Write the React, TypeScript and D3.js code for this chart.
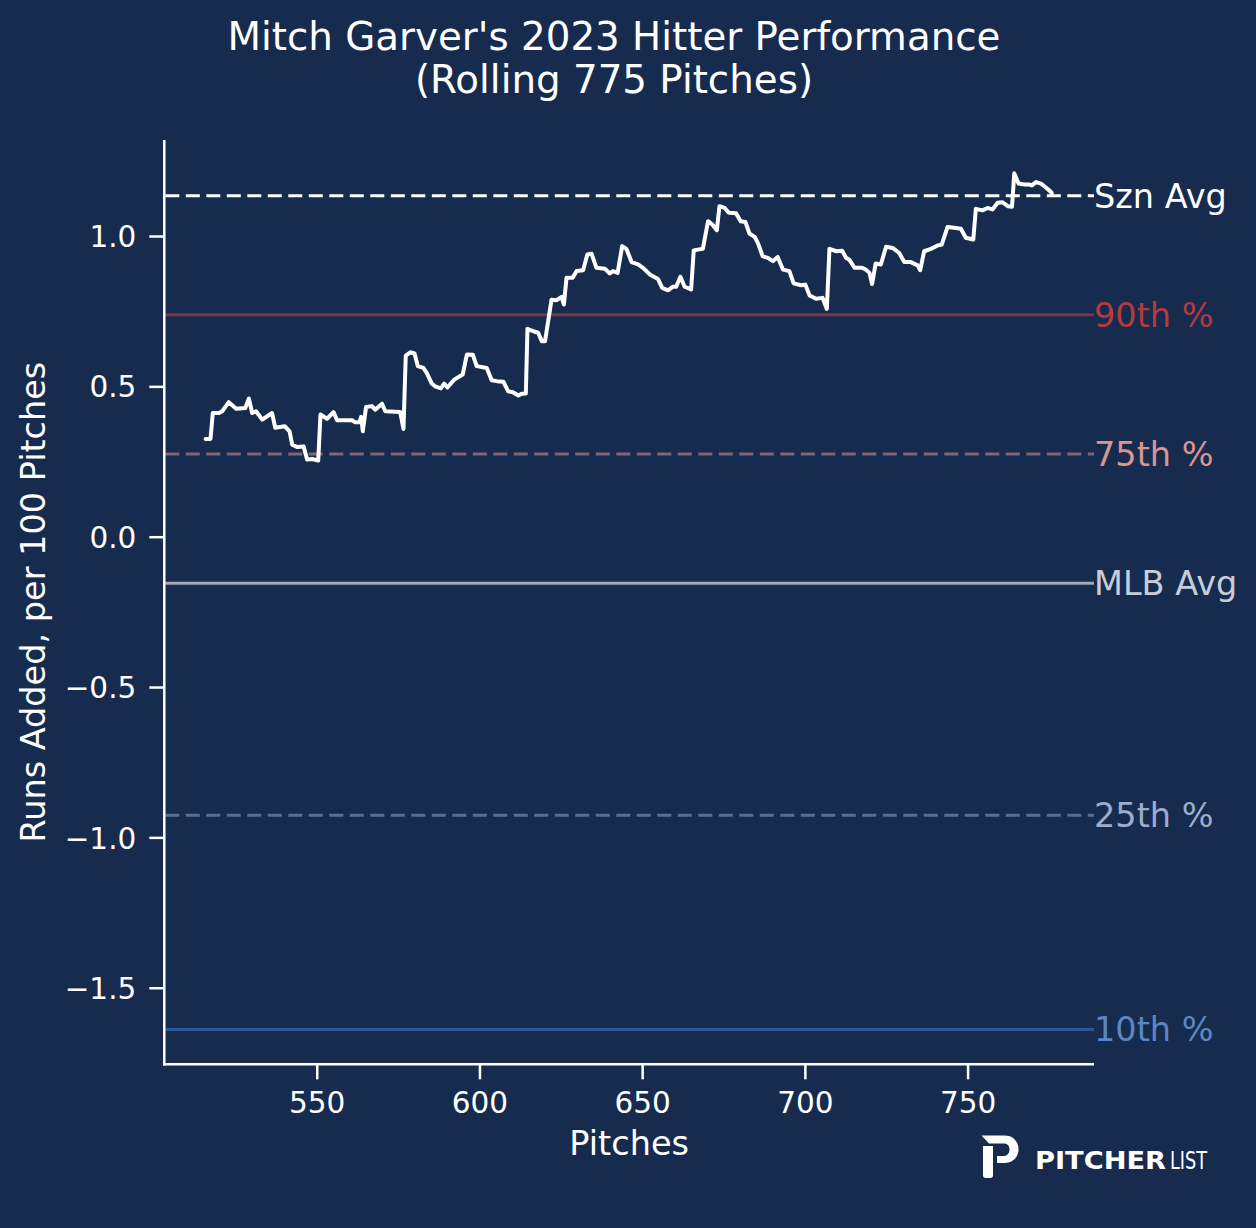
import React from "react";
import * as d3 from "d3";

const pitches = [
  515.7, 517.2, 517.9, 519.8, 520.8, 522.8, 525.1, 527.9, 529.0, 530.0, 531.2, 533.1, 536.1, 537.1, 540.0,
  541.5, 542.3, 543.8, 545.8, 546.9, 548.4, 550.3, 551.0, 553.0, 555.0, 556.1, 560.7, 561.7, 562.9, 563.5,
  564.0, 565.0, 566.8, 567.8, 569.9, 570.9, 575.5, 576.5, 577.2, 578.6, 579.9, 580.9, 582.6, 583.6, 585.2,
  586.2, 588.0, 589.0, 590.0, 592.1, 594.7, 596.0, 597.8, 599.0, 602.1, 603.6, 605.2, 607.2, 608.7, 610.1,
  611.8, 612.8, 614.1, 614.6, 616.4, 617.9, 619.0, 620.0, 622.0, 623.5, 625.1, 625.8, 626.6, 628.5, 629.7,
  631.7, 633.0, 634.3, 635.8, 638.4, 639.9, 640.9, 642.3, 643.7, 645.0, 646.6, 648.6, 650.3, 652.2, 654.7,
  656.0, 657.8, 659.3, 660.3, 661.6, 662.9, 664.9, 665.7, 668.5, 670.1, 671.4, 672.8, 673.6, 675.2, 676.5,
  678.7, 680.1, 681.6, 682.8, 684.4, 685.4, 686.9, 688.5, 690.0, 691.5, 693.1, 695.1, 696.4, 698.7, 700.0,
  701.3, 703.3, 705.3, 706.6, 707.4, 709.5, 711.3, 712.5, 713.5, 715.1, 717.4, 718.6, 719.7, 720.5, 721.6,
  723.2, 724.8, 726.8, 728.8, 730.4, 732.4, 734.5, 735.3, 736.5, 738.6, 740.6, 741.9, 743.7, 745.7, 747.8,
  749.3, 751.6, 752.4, 754.4, 756.0, 757.5, 759.1, 760.6, 762.2, 763.5, 764.2, 765.5, 767.3, 768.8, 769.6,
  770.9, 772.4, 774.0, 775.2, 775.7,
];

const runsAdded = [
  0.327, 0.327, 0.413, 0.413, 0.419, 0.449, 0.427, 0.430, 0.461, 0.413, 0.419, 0.391, 0.413, 0.364, 0.369,
  0.352, 0.308, 0.300, 0.302, 0.258, 0.260, 0.255, 0.408, 0.394, 0.416, 0.389, 0.389, 0.382, 0.382, 0.400,
  0.352, 0.433, 0.436, 0.424, 0.444, 0.419, 0.416, 0.360, 0.604, 0.615, 0.611, 0.569, 0.563, 0.547, 0.511,
  0.502, 0.495, 0.511, 0.498, 0.524, 0.541, 0.608, 0.607, 0.569, 0.563, 0.522, 0.519, 0.517, 0.485, 0.482,
  0.471, 0.477, 0.478, 0.693, 0.685, 0.680, 0.652, 0.652, 0.790, 0.788, 0.799, 0.774, 0.863, 0.863, 0.885,
  0.888, 0.940, 0.943, 0.896, 0.893, 0.877, 0.885, 0.879, 0.968, 0.959, 0.915, 0.907, 0.894, 0.874, 0.859,
  0.829, 0.821, 0.833, 0.833, 0.866, 0.833, 0.824, 0.954, 0.959, 1.051, 1.040, 1.021, 1.101, 1.095, 1.079,
  1.077, 1.051, 1.048, 1.010, 0.999, 0.979, 0.934, 0.929, 0.918, 0.932, 0.890, 0.885, 0.844, 0.838, 0.840,
  0.804, 0.793, 0.796, 0.759, 0.959, 0.951, 0.953, 0.929, 0.923, 0.896, 0.896, 0.890, 0.879, 0.842, 0.910,
  0.907, 0.966, 0.962, 0.946, 0.915, 0.915, 0.904, 0.888, 0.951, 0.959, 0.970, 0.973, 1.032, 1.029, 1.026,
  0.996, 0.990, 1.092, 1.087, 1.095, 1.090, 1.112, 1.114, 1.101, 1.099, 1.210, 1.176, 1.173, 1.173, 1.170,
  1.181, 1.176, 1.162, 1.151, 1.145,
];

const refLabels = ["Szn Avg", "90th %", "75th %", "MLB Avg", "25th %", "10th %"];
const refValues = [1.136, 0.74, 0.277, -0.153, -0.925, -1.637];
const refLineColors = ["#ffffff", "#7a3547", "#7e6578", "#a3a9b8", "#5a6e93", "#2b5797"];
const refTextColors = ["#ffffff", "#b53a3e", "#d9968f", "#c6cedb", "#9cadcb", "#5b87c5"];
const refDashed = [true, false, true, false, true, false];

const xTicks = [550, 600, 650, 700, 750];
const yTicks = [-1.5, -1.0, -0.5, 0.0, 0.5, 1.0];

const BG = "#172b4f";
const FONT = "DejaVu Sans, sans-serif";

export default function App() {
  const W = 1256;
  const H = 1228;
  const left = 164.3;
  const right = 1094;
  const top = 140;
  const bottom = 1064.3;

  const x = d3.scaleLinear().domain([503.0, 788.7]).range([left, right]);
  const y = d3.scaleLinear().domain([-1.753, 1.321]).range([bottom, top]);

  const pts = pitches.map((p, i) => [p, runsAdded[i]] as [number, number]);
  const line = d3
    .line<[number, number]>()
    .x((d) => x(d[0]))
    .y((d) => y(d[1]));

  const fmtY = (v: number) => (v < 0 ? "\u2212" : "") + Math.abs(v).toFixed(1);

  return (
    <div style={{ position: "absolute", left: 0, top: 0, width: W, height: H, background: BG }}>
      <svg width={W} height={H} viewBox={`0 0 ${W} ${H}`} style={{ display: "block" }}>
        <rect x={0} y={0} width={W} height={H} fill={BG} />
        {/* Title */}
        <text x={614} y={50} textAnchor="middle" fill="#ffffff" fontFamily={FONT} fontSize={38.8}>
          Mitch Garver's 2023 Hitter Performance
        </text>
        <text x={614} y={93} textAnchor="middle" fill="#ffffff" fontFamily={FONT} fontSize={38.8}>
          (Rolling 775 Pitches)
        </text>

        {/* Reference lines */}
        {refValues.map((v, i) => (
          <g key={refLabels[i]}>
            <line
              x1={left + 1}
              x2={right}
              y1={y(v)}
              y2={y(v)}
              stroke={refLineColors[i]}
              strokeWidth={3}
              strokeDasharray={refDashed[i] ? "14 6.5" : undefined}
            />
            <text
              x={right}
              y={y(v)}
              dy="0.36em"
              fill={refTextColors[i]}
              fontFamily={FONT}
              fontSize={33.5}
            >
              {refLabels[i]}
            </text>
          </g>
        ))}

        {/* Main line */}
        <path
          d={line(pts) || ""}
          fill="none"
          stroke="#ffffff"
          strokeWidth={4}
          strokeLinejoin="round"
          strokeLinecap="round"
        />

        {/* Axes */}
        <line x1={left} x2={left} y1={top} y2={bottom + 1.25} stroke="#ffffff" strokeWidth={2.5} />
        <line x1={left - 1.25} x2={right} y1={bottom} y2={bottom} stroke="#ffffff" strokeWidth={2.5} />

        {xTicks.map((t) => (
          <g key={`x${t}`}>
            <line x1={x(t)} x2={x(t)} y1={bottom} y2={bottom + 15} stroke="#ffffff" strokeWidth={2.5} />
            <text
              x={x(t)}
              y={bottom + 49}
              textAnchor="middle"
              fill="#ffffff"
              fontFamily={FONT}
              fontSize={29.5}
            >
              {t}
            </text>
          </g>
        ))}
        {yTicks.map((t) => (
          <g key={`y${t}`}>
            <line x1={left - 15} x2={left} y1={y(t)} y2={y(t)} stroke="#ffffff" strokeWidth={2.5} />
            <text
              x={left - 28}
              y={y(t)}
              dy="0.36em"
              textAnchor="end"
              fill="#ffffff"
              fontFamily={FONT}
              fontSize={29.5}
            >
              {fmtY(t)}
            </text>
          </g>
        ))}

        {/* Axis labels */}
        <text
          x={(left + right) / 2}
          y={1155}
          textAnchor="middle"
          fill="#ffffff"
          fontFamily={FONT}
          fontSize={33.5}
        >
          Pitches
        </text>
        <text
          transform={`translate(45, ${(top + bottom) / 2}) rotate(-90)`}
          textAnchor="middle"
          fill="#ffffff"
          fontFamily={FONT}
          fontSize={33.5}
        >
          Runs Added, per 100 Pitches
        </text>

        {/* Logo */}
        <g fill="#ffffff">
          <path d="M981.5,1135.5 L1005,1135.5 C1013,1135.5 1018.5,1141.5 1018.5,1149.5 C1018.5,1157.5 1012.5,1163 1004.5,1163 L997,1163 L997,1156 L1004,1156 C1007.5,1156 1009.5,1153 1009.5,1149.5 C1009.5,1146 1007.5,1143.5 1004,1143.5 L989,1143.5 Z" />
          <path d="M983,1146 L993,1146 L993,1175.5 C993,1177 992,1178 990.5,1178 L985.5,1178 C984,1178 983,1177 983,1175.5 Z" />
        </g>
        <text
          x={1035}
          y={1169}
          fill="#ffffff"
          fontFamily="DejaVu Sans, sans-serif"
          fontWeight={700}
          fontSize={24}
          textLength={131}
          lengthAdjust="spacingAndGlyphs"
        >
          PITCHER
        </text>
        <text
          x={1170}
          y={1169}
          fill="#ffffff"
          fontFamily="DejaVu Sans, sans-serif"
          fontWeight={400}
          fontSize={24}
          textLength={37}
          lengthAdjust="spacingAndGlyphs"
        >
          LIST
        </text>
      </svg>
    </div>
  );
}
